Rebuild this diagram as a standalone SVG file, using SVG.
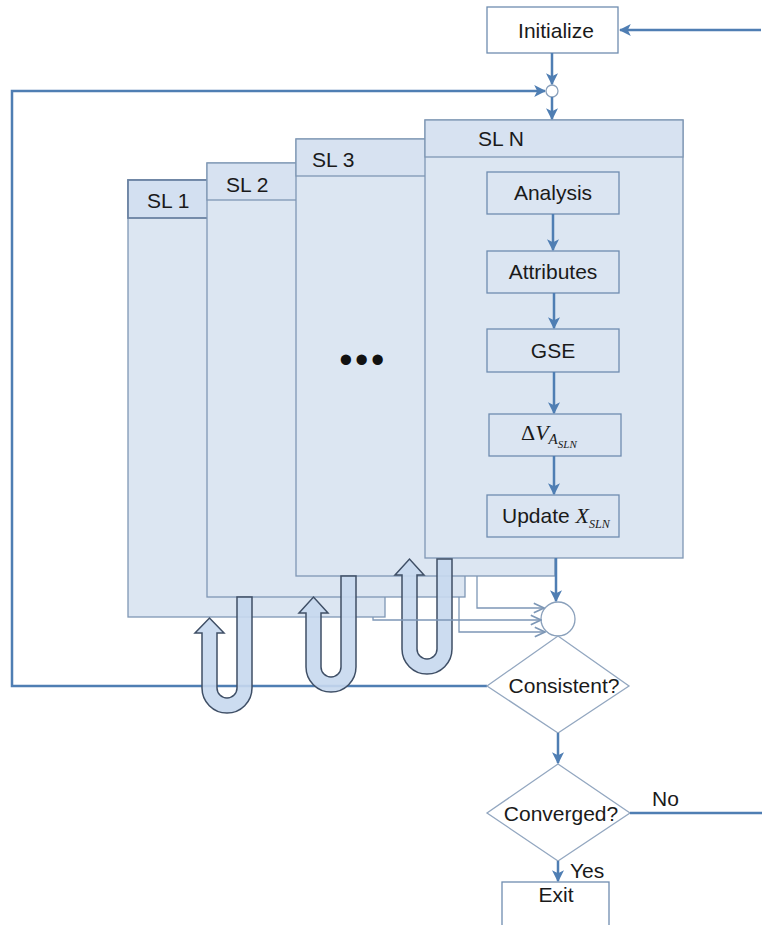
<svg xmlns="http://www.w3.org/2000/svg" width="762" height="925" viewBox="0 0 762 925">
<defs>
<style>
.t{font-family:"Liberation Sans",Arial,sans-serif;font-size:21px;fill:#1a1a1a}
.m{font-family:"Liberation Serif","Times New Roman",serif;fill:#1a1a1a}
.box{fill:#ffffff;stroke:#6f8db0;stroke-width:1.3}
.ibox{fill:#dbe5f2;stroke:#6f8db0;stroke-width:1.3}
.panel{fill:#dce6f2;stroke:#7f97b4;stroke-width:1.3}
.hdr{fill:#d7e2f1;stroke:#7f97b4;stroke-width:1.3}
.dia{fill:#ffffff;stroke:#93a7c0;stroke-width:1.3}
.arr{fill:none;stroke:#4f7eb3;stroke-width:2.5}
.thin{fill:none;stroke:#7d97b6;stroke-width:1.3}
.u{fill:#c7d8ee;stroke:#3f4f66;stroke-width:1.5;fill-opacity:0.9}
</style>
<marker id="ah" viewBox="0 0 10 10" refX="9" refY="5" markerWidth="12" markerHeight="12" markerUnits="userSpaceOnUse" orient="auto">
<path d="M0,0 L10,5 L0,10 L2.5,5 Z" fill="#4f7eb3"/>
</marker>
<marker id="oh" viewBox="0 0 10 10" refX="9.5" refY="5" markerWidth="12" markerHeight="12" markerUnits="userSpaceOnUse" orient="auto">
<path d="M1,1 L9.5,5 L1,9" fill="none" stroke="#7d97b6" stroke-width="1.3"/>
</marker>
</defs>
<rect width="762" height="925" fill="#ffffff"/>

<g id="connectors-back">
<path class="arr" d="M487,686 H12 V91 H545" marker-end="url(#ah)"/>
</g>

<g id="sl1">
<rect class="panel" x="128" y="180" width="257" height="437"/>
<rect class="hdr" x="128" y="180" width="257" height="38" style="fill:#d3e0f1;stroke:#6a82a2;stroke-width:1.8"/>
<text class="t" x="147" y="208">SL 1</text>
</g>
<g id="sl2">
<rect class="panel" x="207" y="163" width="258" height="434"/>
<rect class="hdr" x="207" y="163" width="258" height="37"/>
<text class="t" x="226" y="192">SL 2</text>
</g>
<g id="sl3">
<rect class="panel" x="296" y="139" width="259" height="437"/>
<rect class="hdr" x="296" y="139" width="259" height="37"/>
<text class="t" x="312" y="167">SL 3</text>
<text x="363" y="373" text-anchor="middle" style="font-family:'Liberation Sans',Arial,sans-serif;font-size:38px;fill:#111;letter-spacing:2.5px">•••</text>
</g>
<g id="sln">
<rect class="panel" x="425" y="120" width="258" height="438"/>
<rect class="hdr" x="425" y="120" width="258" height="37"/>
<text class="t" x="478" y="146">SL N</text>
</g>

<g id="analysis"><rect class="ibox" x="487" y="172" width="132" height="42"/><text class="t" x="553" y="200" text-anchor="middle">Analysis</text></g>
<g id="attributes"><rect class="ibox" x="487" y="251" width="132" height="42"/><text class="t" x="553" y="279" text-anchor="middle">Attributes</text></g>
<g id="gse"><rect class="ibox" x="487" y="329" width="132" height="43"/><text class="t" x="553" y="358" text-anchor="middle">GSE</text></g>
<g id="dv"><rect class="ibox" x="489" y="414" width="132" height="42"/>
<text class="m" x="521" y="440" style="font-size:22px">Δ<tspan font-style="italic">V</tspan><tspan font-style="italic" font-size="15" dy="4">A</tspan><tspan font-style="italic" font-size="11" dy="4">SLN</tspan></text></g>
<g id="update"><rect class="ibox" x="487" y="495" width="132" height="42"/>
<text class="t" x="502" y="523">Update <tspan class="m" font-style="italic" font-size="22">X</tspan><tspan class="m" font-style="italic" font-size="12" dy="5">SLN</tspan></text></g>

<g id="initialize"><rect class="box" x="487" y="7" width="131" height="46"/><text class="t" x="556" y="38" text-anchor="middle">Initialize</text></g>
<g id="junction-top"><circle cx="552" cy="91" r="6" fill="#ffffff" stroke="#8aa0bb" stroke-width="1.3"/></g>
<g id="junction-bottom"><circle cx="558" cy="619" r="17" fill="#ffffff" stroke="#8aa0bb" stroke-width="1.3"/></g>
<g id="consistent"><polygon class="dia" points="558,636 629,686 558,733 487,686"/><text class="t" x="564" y="693" text-anchor="middle">Consistent?</text></g>
<g id="converged"><polygon class="dia" points="558,764 630,813 558,861 487,813"/><text class="t" x="561" y="821" text-anchor="middle">Converged?</text></g>
<g id="exit"><rect class="box" x="502" y="882" width="107" height="50"/><text class="t" x="556" y="902" text-anchor="middle">Exit</text></g>

<g id="u-arrows">
<path class="u" d="M237,597 H252 V688 A25,25 0 0 1 202,688 V633 H195 L209.5,618 L224,633 H217 V688 A10,10 0 0 0 237,688 Z"/>
<path class="u" d="M341,576 H356 V667 A25,25 0 0 1 306,667 V613 H299 L313.5,597 L328,613 H321 V667 A10,10 0 0 0 341,667 Z"/>
<path class="u" d="M437,559 H452 V649 A25,25 0 0 1 402,649 V575 H395 L409.5,559 L424,575 H417 V649 A10,10 0 0 0 437,649 Z"/>
</g>

<g id="connectors">
<path class="arr" d="M761,30 H620" marker-end="url(#ah)"/>
<path class="arr" d="M552,53 V84" marker-end="url(#ah)"/>
<path class="arr" d="M552,97 V119" marker-end="url(#ah)"/>
<path class="arr" d="M553,214 V250" marker-end="url(#ah)"/>
<path class="arr" d="M554,293 V328" marker-end="url(#ah)"/>
<path class="arr" d="M554,372 V413" marker-end="url(#ah)"/>
<path class="arr" d="M554,456 V494" marker-end="url(#ah)"/>
<path class="arr" d="M556,558 V601" marker-end="url(#ah)"/>
<path class="thin" d="M477,576 V608 H544" marker-end="url(#oh)"/>
<path class="thin" d="M373,617 V620 H541" marker-end="url(#oh)"/>
<path class="thin" d="M459,597 V632 H545" marker-end="url(#oh)"/>
<path class="arr" d="M558,733 V763" marker-end="url(#ah)"/>
<path class="arr" d="M630,813 H762"/>
<path class="arr" d="M558,861 V881" marker-end="url(#ah)"/>
<text class="t" x="652" y="806">No</text>
<text class="t" x="570" y="878">Yes</text>
</g>
</svg>
